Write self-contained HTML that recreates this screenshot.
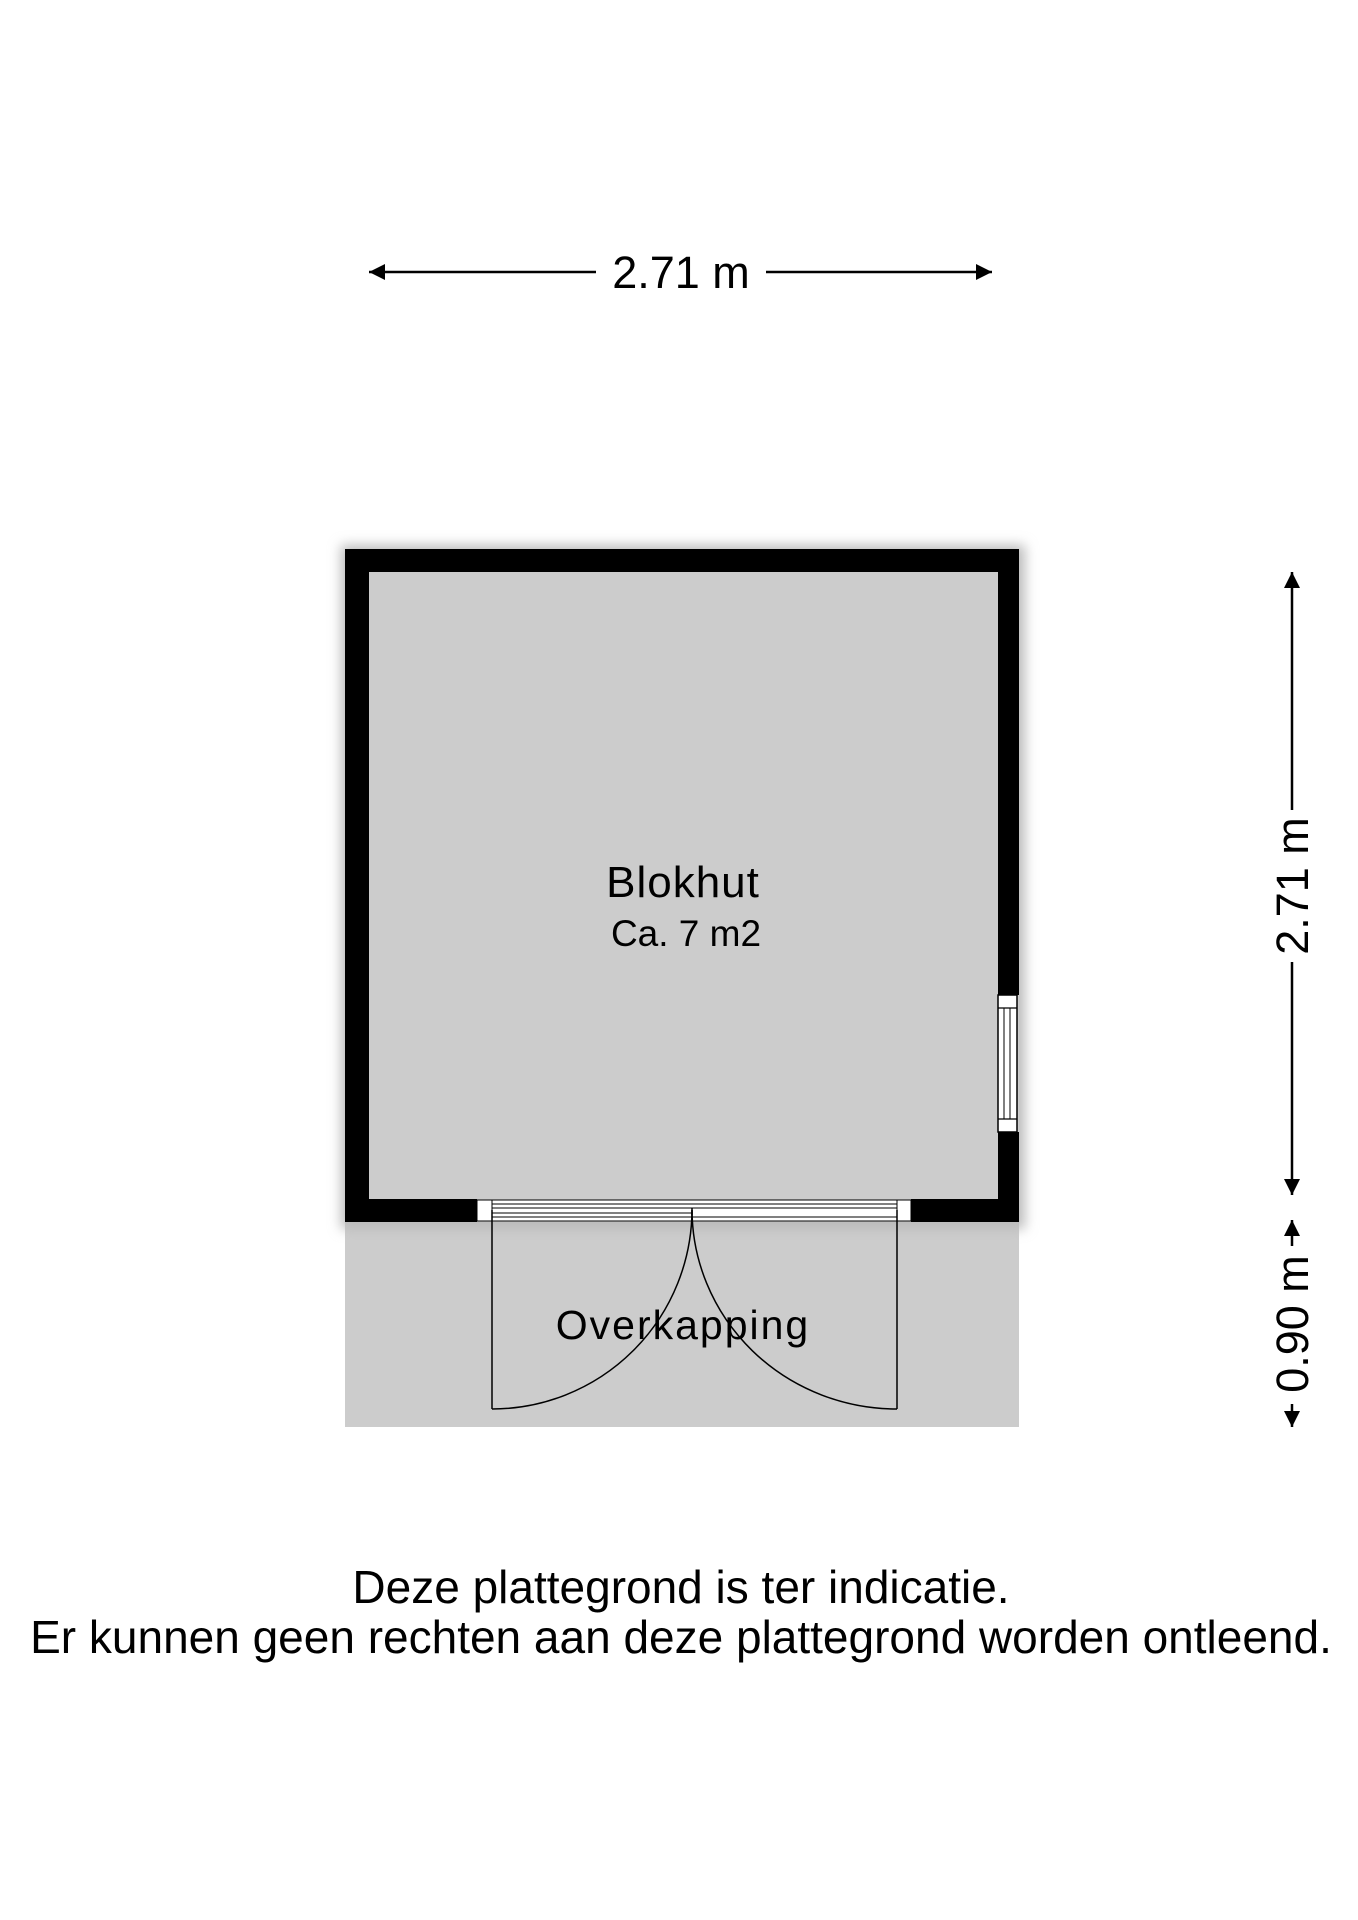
<!DOCTYPE html>
<html><head><style>
body{margin:0;background:#fff;}
svg{display:block}
text{font-family:"Liberation Sans",sans-serif;fill:#000}
</style></head><body>
<svg width="1358" height="1920" viewBox="0 0 1358 1920" xmlns="http://www.w3.org/2000/svg">
<defs>
<filter id="sh" x="-10%" y="-10%" width="120%" height="120%"><feGaussianBlur stdDeviation="6"/></filter>
<marker id="ar" viewBox="0 0 10 10" refX="10" refY="5" markerUnits="userSpaceOnUse" markerWidth="24" markerHeight="16" orient="auto-start-reverse"><path d="M0,0 L10,5 L0,10 z" fill="#000"/></marker>
</defs>
<rect x="345" y="1222" width="674" height="205" fill="#cccccc"/>
<rect x="341" y="545" width="684" height="684" fill="#bbb" filter="url(#sh)"/>
<rect x="345" y="549" width="674" height="673" fill="#cccccc"/>
<path fill="#000" fill-rule="evenodd" d="M345,549 H1019 V995 H998 V572 H369 V1199 H477 V1222 H345 Z"/>
<path fill="#000" d="M998,1132 H1019 V1222 H911 V1199 H998 Z"/>
<rect x="998" y="995" width="19" height="137" fill="#fff" stroke="#000" stroke-width="1.5"/>
<line x1="998" y1="1008" x2="1017" y2="1008" stroke="#000" stroke-width="1.2"/>
<line x1="998" y1="1119" x2="1017" y2="1119" stroke="#000" stroke-width="1.2"/>
<line x1="1004" y1="1008" x2="1004" y2="1119" stroke="#000" stroke-width="1"/>
<line x1="1010" y1="1008" x2="1010" y2="1119" stroke="#000" stroke-width="1"/>
<rect x="477" y="1200" width="434" height="21" fill="#fff" stroke="#000" stroke-width="1"/>
<rect x="477" y="1200" width="15" height="21" fill="#fff" stroke="#000" stroke-width="1"/>
<rect x="897" y="1200" width="14" height="21" fill="#fff" stroke="#000" stroke-width="1"/>
<line x1="492" y1="1204" x2="897" y2="1204" stroke="#000" stroke-width="1"/>
<line x1="492" y1="1208" x2="897" y2="1208" stroke="#000" stroke-width="1"/>
<line x1="492" y1="1213" x2="692" y2="1213" stroke="#000" stroke-width="1"/>
<line x1="492" y1="1217" x2="897" y2="1217" stroke="#000" stroke-width="1"/>
<g fill="none" stroke="#000" stroke-width="1.5">
<path d="M492,1210 V1409"/>
<path d="M897,1210 V1409"/>
<path d="M692,1208 V1215"/>
<path d="M492,1409 A200,200 0 0 0 692,1210"/>
<path d="M897,1409 A205,200 0 0 1 692,1210"/>
</g>
<text x="683" y="897" font-size="44" text-anchor="middle" letter-spacing="1">Blokhut</text>
<text x="686" y="946" font-size="37" text-anchor="middle">Ca. 7 m2</text>
<text x="683" y="1339" font-size="41" text-anchor="middle" letter-spacing="2">Overkapping</text>
<line x1="369" y1="272" x2="596" y2="272" stroke="#000" stroke-width="2.5" marker-start="url(#ar)"/>
<line x1="766" y1="272" x2="992" y2="272" stroke="#000" stroke-width="2.5" marker-end="url(#ar)"/>
<text x="681" y="288" font-size="45" text-anchor="middle">2.71 m</text>
<line x1="1292" y1="572" x2="1292" y2="810" stroke="#000" stroke-width="2.5" marker-start="url(#ar)"/>
<line x1="1292" y1="962" x2="1292" y2="1195" stroke="#000" stroke-width="2.5" marker-end="url(#ar)"/>
<text transform="translate(1308,886) rotate(-90)" font-size="45" text-anchor="middle">2.71 m</text>
<line x1="1292" y1="1220" x2="1292" y2="1246" stroke="#000" stroke-width="2.5" marker-start="url(#ar)"/>
<line x1="1292" y1="1404" x2="1292" y2="1427" stroke="#000" stroke-width="2.5" marker-end="url(#ar)"/>
<text transform="translate(1308,1324) rotate(-90)" font-size="45" text-anchor="middle">0.90 m</text>
<text x="681" y="1603" font-size="46" text-anchor="middle">Deze plattegrond is ter indicatie.</text>
<text x="681" y="1653" font-size="46" text-anchor="middle">Er kunnen geen rechten aan deze plattegrond worden ontleend.</text>
</svg>
</body></html>
